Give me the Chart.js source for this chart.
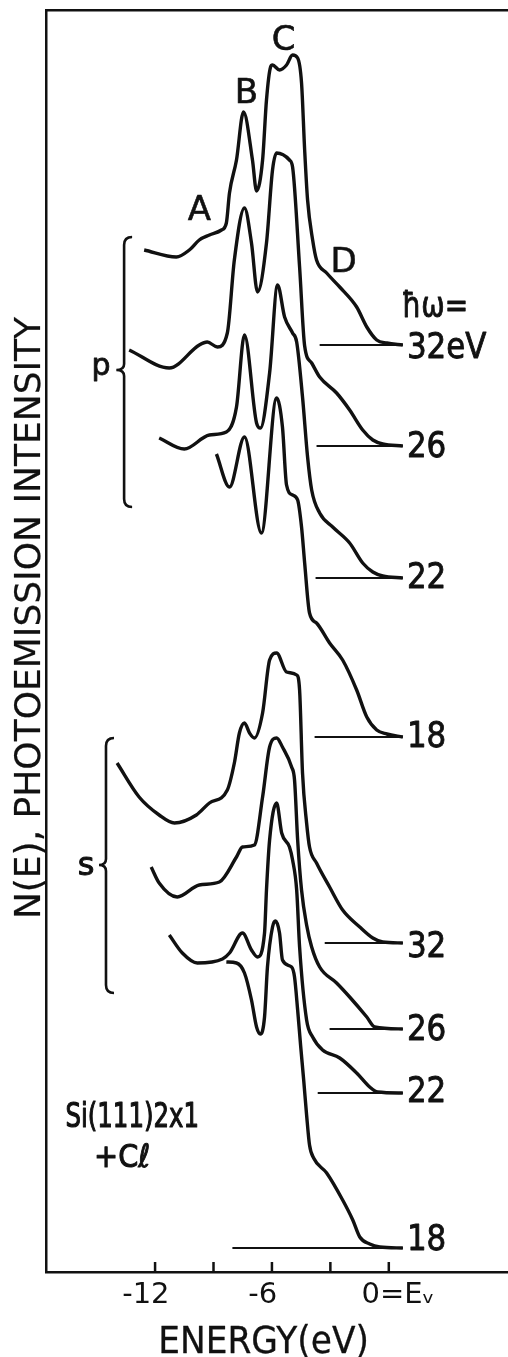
<!DOCTYPE html>
<html>
<head>
<meta charset="utf-8">
<script src="https://cdn.jsdelivr.net/npm/chart.js@4.4.1/dist/chart.umd.min.js"></script>
<style>
  html, body { margin: 0; padding: 0; background: #fff; }
  #wrap { width: 508px; height: 1357px; }
</style>
</head>
<body>
<div id="wrap"><canvas id="grafica" width="508" height="1357"></canvas></div>
<script>
// Si(111)2x1 + Cl, N(E) curves. energy in eV (0 = Ev), intensity in arbitrary units
// p polarisation
const p32E = [-12.56, -10.91, -10.24, -9.73, -9.21, -8.59, -8.34, -8.18, -7.82, -7.46, -7.00, -6.79, -6.48, -6.28, -6.07, -5.97, -5.61, -5.25, -4.94, -4.68, -4.48, -4.32, -4.17, -3.91, -3.71, -3.19, -2.52, -1.65, -1.13, -0.62, -0.10, 0.72]
const p32N = [95, 88, 95, 105, 110, 115, 122, 152, 185, 233, 185, 154, 185, 245, 278, 280, 275, 280, 290, 287, 262, 195, 145, 105, 85, 72, 58, 38, 18, 5, 2, 0]

const p26E = [-13.33, -11.27, -9.73, -9.32, -8.80, -8.29, -7.93, -7.41, -7.05, -6.74, -6.28, -5.97, -5.76, -5.10, -4.94, -4.58, -4.32, -3.96, -3.55, -2.68, -2.01, -1.34, -0.82, -0.31, 0.72]
const p26N = [96, 78, 101, 104, 99, 113, 186, 238, 203, 154, 203, 276, 293, 286, 279, 179, 100, 83, 69, 53, 36, 16, 6, 2, 0]

const p22E = [-11.79, -10.50, -9.21, -8.34, -7.82, -7.41, -6.79, -6.59, -6.12, -5.71, -5.35, -4.94, -4.73, -4.43, -4.17, -3.96, -3.55, -2.88, -2.01, -1.34, -0.82, -0.31, 0.72]
const p22N = [140, 129, 143, 146, 171, 243, 155, 150, 205, 293, 261, 245, 236, 181, 121, 88, 65, 51, 35, 15, 6, 2, 0]

const p18E = [-8.85, -8.18, -7.41, -6.54, -5.76, -5.46, -5.25, -4.94, -4.68, -4.48, -4.32, -4.07, -3.71, -3.04, -2.37, -1.65, -1.13, -0.62, -0.10, 0.72]
const p18N = [283, 250, 300, 204, 339, 310, 252, 242, 237, 210, 174, 124, 114, 94, 77, 47, 20, 7, 3, 0]

// s polarisation
const s32E = [-13.95, -12.82, -11.79, -11.01, -9.88, -9.21, -8.29, -7.93, -7.67, -7.41, -7.15, -6.90, -6.48, -6.12, -5.76, -5.25, -4.73, -4.58, -4.43, -4.22, -4.07, -3.71, -3.04, -2.37, -1.49, -0.82, -0.31, 0.72]
const s32N = [180, 146, 128, 120, 128, 140, 153, 180, 210, 220, 210, 205, 230, 283, 290, 271, 268, 253, 170, 120, 96, 80, 56, 33, 16, 5, 1, 0]

const s26E = [-12.20, -11.79, -10.86, -9.73, -8.70, -7.82, -7.51, -6.90, -6.48, -6.12, -5.76, -5.46, -4.99, -4.84, -4.68, -4.48, -4.22, -3.96, -3.55, -2.68, -2.01, -1.13, -0.72, 0.72]
const s26N = [162, 146, 132, 144, 147, 172, 182, 184, 232, 282, 291, 282, 262, 249, 189, 139, 104, 82, 62, 46, 32, 12, 2, 0]

const s22E = [-11.27, -10.60, -9.83, -8.54, -8.18, -7.51, -7.05, -6.74, -6.38, -6.28, -6.12, -5.76, -5.50, -5.10, -4.94, -4.73, -4.58, -4.22, -3.91, -3.40, -2.52, -1.65, -0.98, -0.57, 0.72]
const s22N = [158, 140, 130, 134, 140, 160, 143, 136, 160, 203, 253, 290, 260, 246, 233, 203, 146, 73, 56, 43, 35, 20, 6, 1, 0]

const s18E = [-8.34, -7.82, -7.41, -7.05, -6.79, -6.59, -6.38, -6.23, -5.97, -5.82, -5.61, -5.46, -4.99, -4.84, -4.68, -4.53, -4.37, -4.22, -4.07, -3.86, -3.19, -2.37, -1.85, -1.49, -0.98, -0.46, 0.72]
const s18N = [286, 285, 275, 248, 221, 214, 231, 281, 321, 327, 315, 288, 281, 271, 238, 203, 168, 133, 103, 90, 75, 48, 28, 11, 4, 1, 0]

const curveE = [p32E, p26E, p22E, p18E, s32E, s26E, s22E, s18E]
const curveN = [p32N, p26N, p22N, p18N, s32N, s26N, s22N, s18N]
// vertical offset of each spectrum (its zero line)
const curveOffsets = [927, 826, 694, 535, 329, 243, 179, 24]
const baseStartE = [-3.55, -3.71, -3.76, -3.81, -3.29, -3.04, -3.65, -8.03]
const baseEndE = 0.72
const photonLabels = ["32eV", "26", "22", "18", "32", "26", "22", "18"]
const labelDrop = [13, 11, 10, 10, 14, 11, 9, 2]

const xTickVals = [-12, -9, -6, -3, 0]
// trailing / leading nbsp nudge the centred labels like in the original lettering
const xTickText = ["-12\u00a0\u00a0", "", "-6\u00a0\u00a0", "", "\u00a0\u00a00=Eᵥ"]

const peakNames = ["A", "B", "C", "D"]
const peakE = [-9.73, -7.31, -5.40, -2.32]
const peakV = [1052, 1169, 1222, 1000]

const ink = "#111"
const fam = '"DejaVu Sans", sans-serif'

const datasets = []
curveE.forEach((eArr, i) => {
  const off = curveOffsets[i]
  datasets.push({
    data: eArr.map((e, j) => ({ x: e, y: off + curveN[i][j] })),
    borderColor: ink,
    borderWidth: 3.4,
    pointRadius: 0,
    fill: false,
    cubicInterpolationMode: "monotone",
  })
  datasets.push({
    data: [{ x: baseStartE[i], y: off }, { x: baseEndE, y: off }],
    borderColor: ink,
    borderWidth: 1.9,
    pointRadius: 0,
    fill: false,
  })
})

function texto(ctx, str, x, y, size, sx, align, grosor) {
  ctx.save()
  ctx.translate(x, y)
  ctx.scale(sx, 1)
  ctx.font = size + "px " + fam
  ctx.textAlign = align || "center"
  ctx.textBaseline = "alphabetic"
  ctx.fillStyle = ink
  ctx.fillText(str, 0, 0)
  if (grosor) {
    ctx.strokeStyle = ink
    ctx.lineWidth = grosor
    ctx.lineJoin = "round"
    ctx.strokeText(str, 0, 0)
  }
  ctx.restore()
}

function llave(ctx, x, top, bottom, tip, tipX) {
  ctx.beginPath()
  ctx.moveTo(x + 8, top)
  ctx.quadraticCurveTo(x, top, x, top + 8)
  ctx.lineTo(x, tip - 6)
  ctx.quadraticCurveTo(x, tip, tipX, tip)
  ctx.quadraticCurveTo(x, tip, x, tip + 6)
  ctx.lineTo(x, bottom - 8)
  ctx.quadraticCurveTo(x, bottom, x + 8, bottom)
  ctx.stroke()
}

const decor = {
  id: "decor",
  afterDraw(chart) {
    const ctx = chart.ctx
    const xs = chart.scales.x
    const ys = chart.scales.y
    const area = chart.chartArea
    ctx.save()
    ctx.strokeStyle = ink
    ctx.lineWidth = 2.5
    // inward tick marks
    xs.ticks.forEach(t => {
      const px = xs.getPixelForValue(t.value)
      ctx.beginPath()
      ctx.moveTo(px, area.bottom)
      ctx.lineTo(px, area.bottom - 10)
      ctx.stroke()
    })
    // peak letters
    peakNames.forEach((n, i) => {
      texto(ctx, n, xs.getPixelForValue(peakE[i]), ys.getPixelForValue(peakV[i]), 34, 1, "center", 0.6)
    })
    // photon energies
    photonLabels.forEach((l, i) => {
      texto(ctx, l, xs.getPixelForValue(0.93), ys.getPixelForValue(curveOffsets[i]) + labelDrop[i], 36, 0.86, "left", 0.9)
    })
    texto(ctx, "ħω=", xs.getPixelForValue(0.67), ys.getPixelForValue(955), 35, 0.8, "left", 0.9)
    // polarisation braces
    ctx.lineWidth = 2.6
    llave(ctx, xs.getPixelForValue(-13.59), ys.getPixelForValue(1035), ys.getPixelForValue(765), ys.getPixelForValue(902), xs.getPixelForValue(-13.99))
    llave(ctx, xs.getPixelForValue(-14.52), ys.getPixelForValue(534), ys.getPixelForValue(279), ys.getPixelForValue(407), xs.getPixelForValue(-14.88))
    texto(ctx, "p", xs.getPixelForValue(-14.77), ys.getPixelForValue(897), 30, 1, "center", 0.8)
    texto(ctx, "s", xs.getPixelForValue(-15.54), ys.getPixelForValue(397), 32, 1, "center", 1)
    // sample
    texto(ctx, "Si(111)2x1", xs.getPixelForValue(-13.17), ys.getPixelForValue(145), 34, 0.72, "center", 1.2)
    texto(ctx, "+Cℓ", xs.getPixelForValue(-13.69), ys.getPixelForValue(105), 32, 0.9, "center", 1)
    // axis titles
    texto(ctx, "ENERGY(eV)", xs.getPixelForValue(-6.43), area.bottom + 81, 37, 0.93, "center", 0.3)
    ctx.save()
    ctx.translate(40, 618)
    ctx.rotate(-Math.PI / 2)
    texto(ctx, "N(E), PHOTOEMISSION INTENSITY", 0, 0, 36, 1, "center", 0.2)
    ctx.restore()
    ctx.restore()
  }
}

new Chart(document.getElementById("grafica"), {
  type: "line",
  data: { datasets },
  options: {
    responsive: false,
    animation: false,
    events: [],
    layout: { padding: { left: 46, top: 10, right: 0, bottom: 0 } },
    plugins: { legend: { display: false }, tooltip: { enabled: false } },
    scales: {
      x: {
        type: "linear",
        position: "bottom",
        min: -17.6,
        max: 6.12,
        afterBuildTicks: s => { s.ticks = xTickVals.map(v => ({ value: v })) },
        afterFit: s => { s.height = 85 },
        ticks: {
          callback: v => xTickText[xTickVals.indexOf(v)],
          font: { family: fam, size: 29 },
          color: ink,
          padding: 6,
          maxRotation: 0,
          autoSkip: false,
        },
        grid: { display: false, drawTicks: false },
        border: { display: true, color: ink, width: 2.5 },
      },
      x2: {
        type: "linear",
        position: "top",
        min: -17.6,
        max: 6.12,
        afterFit: s => { s.height = 0 },
        ticks: { display: false },
        grid: { display: false, drawTicks: false },
        border: { display: true, color: ink, width: 2.5 },
      },
      y: {
        type: "linear",
        min: 0,
        max: 1262,
        afterFit: s => { s.width = 0 },
        ticks: { display: false },
        grid: { display: false, drawTicks: false },
        border: { display: true, color: ink, width: 2.5 },
      },
    },
  },
  plugins: [decor],
})
</script>
</body>
</html>
